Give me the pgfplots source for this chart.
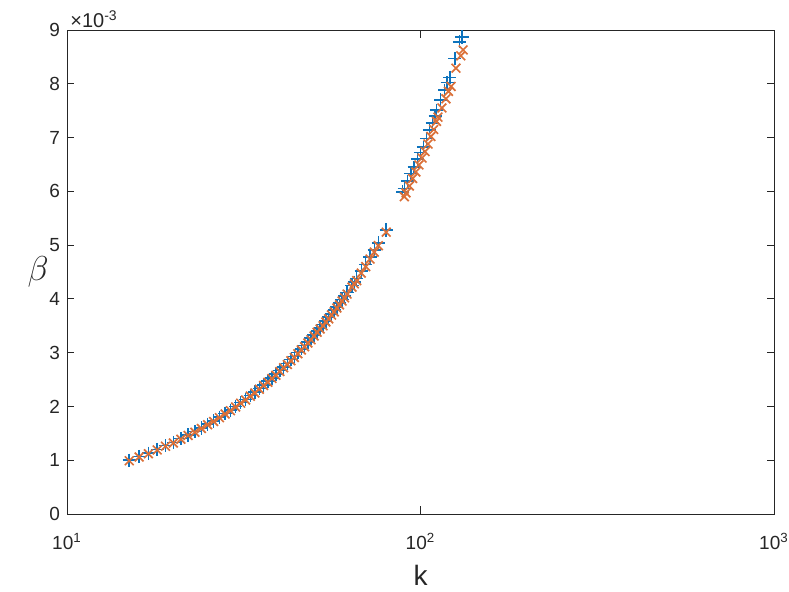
\documentclass[border=0pt]{standalone}
\usepackage{fontspec}
\setmainfont{Liberation Sans}
\usepackage{pgfplots}
\pgfplotsset{compat=1.18}
\definecolor{mblue}{rgb}{0.05,0.45,0.74}
\definecolor{morange}{rgb}{0.86,0.44,0.22}
\definecolor{axgray}{rgb}{0.15,0.15,0.15}
\begin{document}
\begin{tikzpicture}
\useasboundingbox (-33.5pt,-39pt) rectangle (361pt,257pt);
\begin{axis}[
 name=ax,
 at={(0,0)}, anchor=south west,
 scale only axis, width=353.5pt, height=242pt,
 xmode=log, log basis x=10,
 xmin=10, xmax=1000, ymin=0, ymax=9,
 xtick={10,100,1000},
 xticklabels={10\textsuperscript{1},10\textsuperscript{2},10\textsuperscript{3}},
 ytick={0,1,2,3,4,5,6,7,8,9},
 tick align=inside, tick pos=both,
 major tick length=3.75pt, minor tick length=2pt,
 axis line style={axgray, line width=0.4pt},
 every tick/.style={axgray, line width=0.4pt},
 tick label style={font=\fontsize{9.5}{11}\selectfont, text=axgray},
 xticklabel style={yshift=-6pt},
 /pgf/number format/assume math mode=true,
 xlabel={k}, ylabel={$\beta$},
 xlabel style={font=\fontsize{14}{16}\selectfont, text=axgray, at={(axis description cs:0.5,-0.126)}, anchor=center},
 ylabel style={font=\fontsize{18}{20}\selectfont, text=axgray, rotate=-90, at={(axis description cs:-0.041,0.5)}, anchor=center},
]
\addplot[only marks, mark=+, mark size=3.3pt, color=mblue, line width=0.75pt] coordinates {
(15,1.00)(16,1.07)(17,1.13)(18,1.20)(19,1.27)(20,1.33)(21,1.40)(22,1.47)(23,1.53)(24,1.60)
(25,1.67)(26,1.73)(27,1.80)(28,1.87)(29,1.93)(30,2.00)(31,2.07)(32,2.13)(33,2.20)(34,2.27)
(35,2.33)(36,2.40)(37,2.47)(38,2.53)(39,2.60)(40,2.67)(41,2.73)(42,2.80)(43,2.87)(44,2.93)
(45,3.00)(46,3.07)(47,3.13)(48,3.20)(49,3.27)(50,3.33)(51,3.40)(52,3.46)(53,3.52)(54,3.59)
(55,3.66)(56,3.72)(57,3.79)(58,3.85)(59,3.92)(60,3.99)(61,4.05)(62,4.12)(64,4.25)(65,4.31)
(66,4.38)(68,4.52)(70,4.64)(72,4.78)(74,4.91)(76,5.04)(80,5.28)
(89,5.99)(90,6.05)(92,6.19)(94,6.33)(96,6.45)(98,6.60)(100,6.72)(102,6.82)(104,6.98)(106,7.14)
(108,7.27)(110,7.40)(111,7.51)(114,7.70)(117,7.88)(119,8.02)(121,8.12)(125,8.47)(129,8.78)(131,8.87)
};
\addplot[only marks, mark=x, mark size=3.1pt, color=morange, line width=0.85pt] coordinates {
(15,0.99)(16,1.06)(17,1.12)(18,1.19)(19,1.26)(20,1.32)(21,1.39)(22,1.46)(23,1.52)(24,1.59)
(25,1.66)(26,1.72)(27,1.79)(28,1.86)(29,1.92)(30,1.99)(31,2.06)(32,2.12)(33,2.19)(34,2.25)
(35,2.32)(36,2.39)(37,2.45)(38,2.52)(39,2.58)(40,2.65)(41,2.72)(42,2.78)(43,2.85)(44,2.91)
(45,2.98)(46,3.05)(47,3.11)(48,3.18)(49,3.24)(50,3.31)(51,3.38)(52,3.44)(53,3.50)(54,3.57)
(55,3.63)(56,3.70)(57,3.76)(58,3.83)(59,3.89)(60,3.96)(61,4.02)(62,4.09)(64,4.22)(65,4.28)
(66,4.34)(68,4.48)(70,4.60)(72,4.74)(74,4.87)(76,4.99)(80,5.24)
(90,5.90)(91,5.97)(93,6.10)(95,6.24)(97,6.36)(99,6.49)(101,6.62)(103,6.74)(105,6.88)(107,7.02)
(109,7.15)(111,7.30)(112,7.38)(115,7.55)(118,7.72)(120,7.86)(122,7.95)(126,8.29)(130,8.52)(132,8.63)
};
\end{axis}
\node[anchor=south west, inner sep=1pt, xshift=0.5pt, font=\fontsize{10}{11}\selectfont, text=axgray] at (ax.north west) {×10\textsuperscript{-3}};
\end{tikzpicture}
\end{document}
